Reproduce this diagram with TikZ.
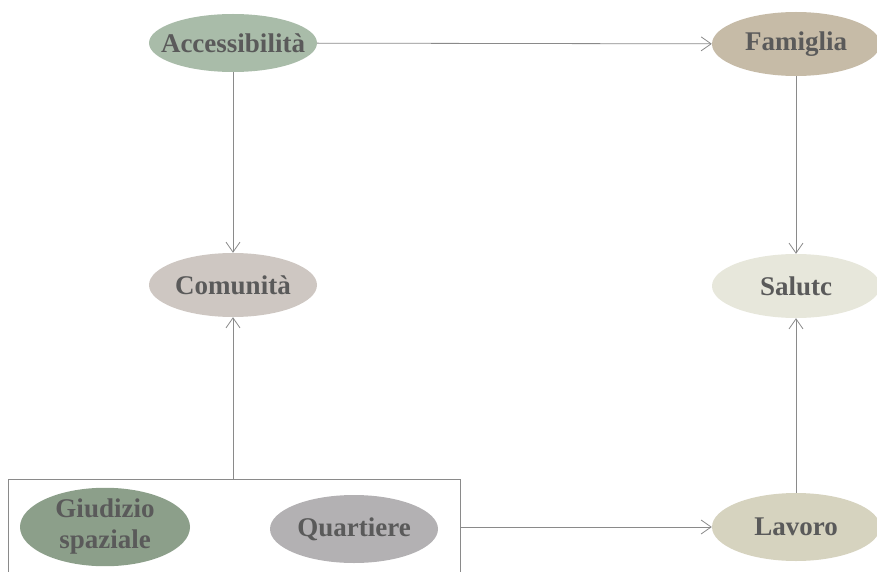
\documentclass[tikz,border=0pt]{standalone}
\usepackage{fontspec}
\setmainfont{Liberation Serif}
\usetikzlibrary{arrows.meta,shapes.geometric}

\definecolor{testo}{HTML}{5A5A5A}
\definecolor{linea}{HTML}{8A8A8A}
\definecolor{cAcc}{HTML}{A9BCA9}
\definecolor{cFam}{HTML}{C6BBA7}
\definecolor{cCom}{HTML}{CEC7C2}
\definecolor{cSal}{HTML}{E7E7DB}
\definecolor{cLav}{HTML}{D6D3BF}
\definecolor{cGiu}{HTML}{8C9F8A}
\definecolor{cQua}{HTML}{B3B1B3}

\begin{document}
\begin{tikzpicture}[x=1pt,y=-1pt,
    ovale/.style={ellipse, minimum width=168pt, minimum height=64pt, inner sep=0pt,
        text=testo, font=\fontsize{27}{31}\selectfont\bfseries, align=center},
    freccia/.style={draw=linea, line width=0.8pt, -{Straight Barb[length=10pt,width=14pt]}}]

    \useasboundingbox (0,0) rectangle (877,572);

    % Nodi in alto
    \node[ovale, fill=cAcc, minimum height=58pt, inner xsep=-16pt, inner ysep=-4pt] (acc) at (233,43) {Accessibilità};
    \node[ovale, fill=cFam, minimum height=64pt] (fam) at (796,44) {Famiglia};

    % Nodi al centro
    \node[ovale, fill=cCom] (com) at (233,285) {Comunità};
    \node[ovale, fill=cSal] (sal) at (796,286) {Salutc};

    % Nodi in basso
    \node[ovale, fill=cLav, minimum height=68pt] (lav) at (796,527) {Lavoro};
    \node[ovale, fill=cGiu, minimum height=68pt, minimum width=170pt] (giu) at (105,527) {Giudizio\\spaziale};
    \node[ovale, fill=cQua, minimum height=68pt] (qua) at (354,529) {Quartiere};

    % Riquadro aperto in basso
    \coordinate (bsx) at (8,572);
    \coordinate (bdx) at (460,572);
    \draw[linea, line width=0.8pt] (bsx) |- (460,479) -- (bdx);
    \coordinate (bsu) at (233,479);
    \coordinate (bde) at (460,527);

    % Frecce
    \draw[freccia] (acc) -- (fam);
    \draw[freccia] (acc) -- (com);
    \draw[freccia] (fam) -- (sal);
    \draw[freccia] (lav) -- (sal);
    \draw[freccia] (bsu) -- (com);
    \draw[freccia] (bde) -- (lav);

    \end{tikzpicture}
\end{document}
